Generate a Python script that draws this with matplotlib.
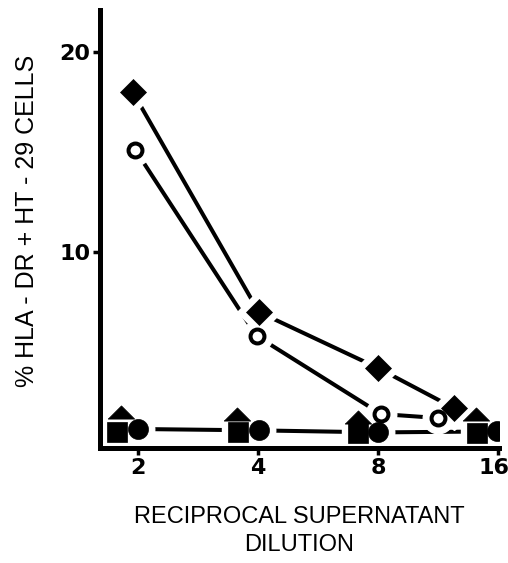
import matplotlib
matplotlib.use("Agg")
import matplotlib.pyplot as plt
import matplotlib.transforms as mtransforms

# ---- data ----
diamond_x = [1.94, 4.02, 8.0, 12.4]
diamond_y = [18.0, 7.0, 4.2, 2.2]
open_x = [1.97, 3.97, 8.14, 11.3]
open_y = [15.1, 5.8, 1.9, 1.7]
fcircle_x = [2.0, 4.03, 8.0, 15.9]
fcircle_y = [1.15, 1.08, 0.98, 1.03]
square_x = [1.77, 3.56, 7.13, 14.2]
square_y = [1.0, 1.0, 0.93, 0.93]
triangle_x = [1.81, 3.55, 7.13, 14.1]
triangle_y = [1.98, 1.88, 1.77, 1.88]
xticks = [2, 4, 8, 16]
xtick_labels = ["2", "4", "8", "16"]
yticks = [10, 20]
ytick_labels = ["10", "20"]
xlabel = "RECIPROCAL SUPERNATANT\nDILUTION"
ylabel = "% HLA - DR + HT - 29 CELLS"

plt.rcParams['font.family'] = ['Liberation Sans', 'DejaVu Sans']

fig = plt.figure(figsize=(5.08, 5.63), dpi=100)
ax = fig.add_axes([100/508, 1-448/563, 399/508, 438/563])
ax.set_xscale('log', base=2)
ax.set_xlim(1.606, 16.1)
ax.set_ylim(0.2, 22.1)

lw = 2.9
flat_tri = [(-1, -0.5), (1, -0.5), (0, 0.5), (-1, -0.5)]

# lines
ax.plot(diamond_x, diamond_y, color='black', lw=lw, zorder=2)
ax.plot(open_x, open_y, color='black', lw=lw, zorder=2)
ax.plot(fcircle_x, fcircle_y, color='black', lw=lw, zorder=2)

halo = 9
# halos (white) to create gaps
ax.plot(diamond_x, diamond_y, ls='none', marker='D', ms=13.2 + halo, mfc='white', mec='white', zorder=3)
ax.plot(open_x, open_y, ls='none', marker='o', ms=13 + halo, mfc='white', mec='white', zorder=3)
ax.plot(fcircle_x, fcircle_y, ls='none', marker='o', ms=14.4 + halo, mfc='white', mec='white', zorder=3)
ax.plot(square_x, square_y, ls='none', marker='s', ms=13.9 + halo, mfc='white', mec='white', zorder=3)
ax.plot(triangle_x, triangle_y, ls='none', marker=flat_tri, ms=19 + halo, mfc='white', mec='white', zorder=3)

# markers
ax.plot(diamond_x, diamond_y, ls='none', marker='D', ms=13.2, mfc='black', mec='black', mew=0.5, zorder=4)
ax.plot(open_x, open_y, ls='none', marker='o', ms=10, mfc='white', mec='black', mew=2.9, zorder=4)
ax.plot(square_x, square_y, ls='none', marker='s', ms=13.9, mfc='black', mec='black', mew=0.5, zorder=4)
ax.plot(triangle_x, triangle_y, ls='none', marker=flat_tri, ms=19, mfc='black', mec='black', mew=0.5, zorder=4)
ax.plot(fcircle_x, fcircle_y, ls='none', marker='o', ms=14.4, mfc='black', mec='black', mew=0.5, zorder=5)

for s in ['top', 'right']:
    ax.spines[s].set_visible(False)
for s in ['left', 'bottom']:
    ax.spines[s].set_linewidth(3.6)
    ax.spines[s].set_capstyle('projecting')
    ax.spines[s].set_zorder(6)

ax.set_xticks(xticks)
ax.set_xticklabels(xtick_labels)
ax.set_yticks(yticks)
ax.set_yticklabels(ytick_labels)
ax.minorticks_off()
ax.tick_params(axis='both', direction='out', length=5, width=2.5, color='black',
               labelsize=16, pad=2)
for t in ax.get_xticklabels() + ax.get_yticklabels():
    t.set_fontfamily('DejaVu Sans')
    t.set_fontweight('bold')
# nudge the last x label slightly left so it stays inside the figure
last = ax.get_xticklabels()[-1]
last.set_transform(last.get_transform() +
                   mtransforms.ScaledTranslation(-4/100, 0, fig.dpi_scale_trans))

fig.text(299/508, 1-531/563, xlabel, ha='center', va='center', fontsize=17,
         linespacing=1.35)
fig.text(27/508, 1-221/563, ylabel, ha='center', va='center', fontsize=18,
         rotation=90)

fig.savefig('out.png', dpi=100, facecolor='white')
